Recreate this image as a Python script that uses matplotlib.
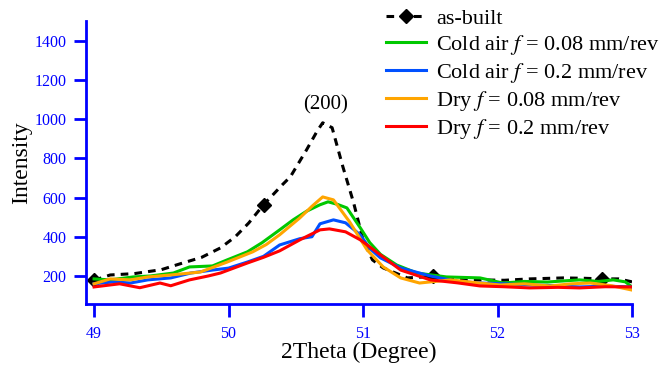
import numpy as np
import matplotlib.pyplot as plt

plt.rcParams['font.family'] = ['Liberation Serif', 'DejaVu Serif']
plt.rcParams['mathtext.fontset'] = 'stix'

# as-built (dashed, diamond markers)
x_built = [49.00, 49.12, 49.30, 49.50, 49.64, 49.80, 49.94, 50.05, 50.15, 50.26,
           50.40, 50.46, 50.58, 50.66, 50.70, 50.77, 50.85, 50.93, 51.00, 51.07,
           51.15, 51.33, 51.52, 51.70, 51.87, 52.05, 52.24, 52.49, 52.65, 52.78,
           52.90, 53.00]
y_built = [178, 205, 212, 232, 262, 295, 343, 400, 470, 563,
           665, 706, 843, 940, 981, 956, 757, 573, 384, 282,
           241, 190, 198, 185, 180, 178, 185, 190, 188, 185,
           185, 170]
built_markers = [0, 9, 22, 29]

# Cold air f = 0.08
x_g = [49.00, 49.12, 49.29, 49.42, 49.59, 49.71, 49.88, 49.99, 50.14, 50.25,
       50.38, 50.48, 50.58, 50.68, 50.74, 50.81, 50.88, 50.98, 51.05, 51.13,
       51.25, 51.40, 51.62, 51.87, 52.04, 52.20, 52.37, 52.50, 52.61, 52.75,
       52.86, 52.95, 53.00]
y_g = [185, 180, 195, 200, 215, 246, 251, 282, 323, 370,
       435, 486, 530, 563, 578, 565, 547, 445, 370, 310,
       256, 215, 195, 190, 164, 172, 169, 175, 180, 172,
       180, 170, 144]

# Cold air f = 0.2
x_b = [49.00, 49.15, 49.27, 49.40, 49.57, 49.72, 49.88, 50.00, 50.14, 50.26,
       50.38, 50.53, 50.62, 50.68, 50.78, 50.87, 50.98, 51.05, 51.13, 51.28,
       51.50, 51.70, 51.87, 52.05, 52.24, 52.45, 52.61, 52.80, 53.00]
y_b = [160, 170, 164, 180, 190, 215, 230, 240, 271, 300,
       358, 390, 400, 466, 486, 471, 409, 340, 292, 241,
       200, 172, 164, 160, 154, 150, 144, 148, 144]

# Dry f = 0.08
x_o = [49.00, 49.12, 49.27, 49.40, 49.57, 49.79, 49.99, 50.18, 50.28, 50.38,
       50.53, 50.62, 50.70, 50.78, 50.90, 51.03, 51.15, 51.28, 51.42, 51.65,
       51.85, 52.02, 52.20, 52.39, 52.55, 52.69, 52.85, 53.00]
y_o = [160, 185, 180, 195, 205, 220, 271, 323, 360, 410,
       496, 555, 603, 588, 476, 333, 246, 190, 164, 180,
       165, 154, 160, 149, 160, 164, 150, 128]

# Dry f = 0.2
x_r = [49.00, 49.19, 49.34, 49.49, 49.57, 49.71, 49.85, 49.94, 50.14, 50.26,
       50.38, 50.53, 50.68, 50.75, 50.87, 50.98, 51.13, 51.28, 51.50, 51.70,
       51.87, 52.05, 52.24, 52.45, 52.61, 52.80, 53.00]
y_r = [144, 160, 140, 164, 150, 180, 200, 215, 266, 295,
       328, 384, 435, 440, 425, 384, 307, 230, 180, 165,
       149, 145, 139, 142, 139, 145, 144]

peak_label = "(200)"
peak_pos = (50.72, 1070)

fig = plt.figure(figsize=(6.65, 3.65), dpi=100)
ax = fig.add_axes([86 / 665, 1 - 304 / 365, (632 - 86) / 665, (304 - 21) / 365])

ax.plot(x_built, y_built, color='black', lw=2.2, dashes=(2.5, 2.0),
        marker='D', markersize=7, markevery=built_markers, label='as-built')
ax.plot(x_g, y_g, color='#00c800', lw=2.2, label='Cold air $f$ = 0.08 mm/rev')
ax.plot(x_b, y_b, color='#0050ff', lw=2.2, label='Cold air $f$ = 0.2 mm/rev')
ax.plot(x_o, y_o, color='#ffa500', lw=2.2, label='Dry $f$ = 0.08 mm/rev')
ax.plot(x_r, y_r, color='#ff0000', lw=2.2, label='Dry $f$ = 0.2 mm/rev')

ax.text(peak_pos[0], peak_pos[1], peak_label, ha='center', va='center', fontsize=15)

ax.set_xlim(48.94, 53.0)
ax.set_ylim(57, 1500)
ax.set_xticks([49, 50, 51, 52, 53])
ax.set_yticks([200, 400, 600, 800, 1000, 1200, 1400])

for s in ['top', 'right']:
    ax.spines[s].set_visible(False)
for s in ['left', 'bottom']:
    ax.spines[s].set_color('blue')
    ax.spines[s].set_linewidth(2)
ax.tick_params(colors='blue', width=2, length=9, labelsize=11.5)
ax.tick_params(axis='x', pad=7)
ax.tick_params(axis='y', pad=5)

ax.set_xlabel('2Theta (Degree)', fontsize=17, labelpad=0)
ax.set_ylabel('Intensity', fontsize=17, labelpad=2)

ax.legend(loc='upper left', bbox_to_anchor=(386 / 665, 1 - 8 / 365),
          bbox_transform=fig.transFigure, frameon=False, fontsize=16,
          handlelength=1.8, handletextpad=0.45, labelspacing=0.18,
          borderaxespad=0, borderpad=0)

fig.savefig('out.png', dpi=100)
